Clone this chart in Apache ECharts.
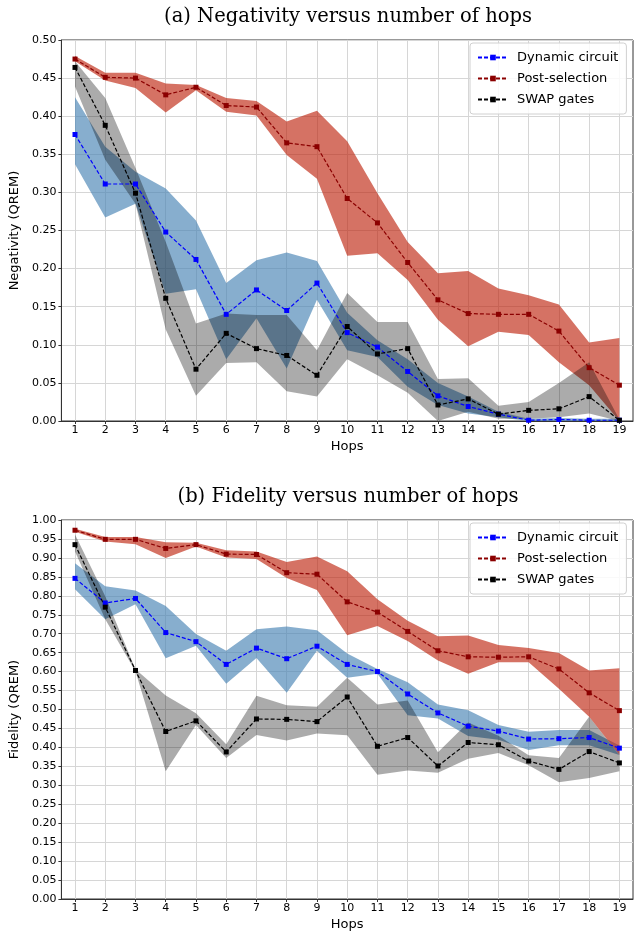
<!DOCTYPE html>
<html>
<head>
<meta charset="utf-8">
<script src="https://cdn.jsdelivr.net/npm/echarts@6/dist/echarts.min.js"></script>
<style>html,body{margin:0;padding:0;background:#fff}#c{width:636px;height:932px}</style>
</head>
<body>
<div id="c"></div>
<script>
const hops = [1,2,3,4,5,6,7,8,9,10,11,12,13,14,15,16,17,18,19];
const seriesNames = ['Dynamic circuit', 'Post-selection', 'SWAP gates'];
const titleA = '(a) Negativity versus number of hops';
const titleB = '(b) Fidelity versus number of hops';

// (a) Negativity
const dynNeg   = [0.376,0.311,0.311,0.248,0.212,0.140,0.172,0.145,0.181,0.116,0.097,0.065,0.033,0.019,0.009,0.001,0.002,0.001,0.001];
const dynNegLo = [0.337,0.267,0.285,0.167,0.173,0.081,0.135,0.069,0.159,0.093,0.084,0.045,0.021,0.010,0.005,0.000,0.000,0.000,0.000];
const dynNegHi = [0.425,0.360,0.327,0.305,0.263,0.181,0.211,0.221,0.210,0.142,0.106,0.081,0.050,0.032,0.012,0.003,0.004,0.003,0.003];

const postNeg   = [0.475,0.451,0.450,0.428,0.438,0.414,0.412,0.365,0.360,0.292,0.260,0.208,0.159,0.141,0.140,0.140,0.118,0.070,0.047];
const postNegLo = [0.472,0.447,0.437,0.405,0.434,0.406,0.401,0.349,0.318,0.217,0.220,0.185,0.133,0.098,0.117,0.113,0.077,0.047,0.000];
const postNegHi = [0.479,0.457,0.457,0.443,0.441,0.424,0.420,0.393,0.407,0.367,0.299,0.235,0.194,0.197,0.174,0.165,0.153,0.103,0.109];

const swapNeg   = [0.464,0.388,0.299,0.161,0.068,0.115,0.095,0.086,0.060,0.124,0.088,0.095,0.021,0.029,0.009,0.014,0.016,0.032,0.001];
const swapNegLo = [0.439,0.343,0.285,0.120,0.033,0.076,0.077,0.039,0.032,0.081,0.060,0.037,0.000,0.012,0.003,0.003,0.005,0.010,0.000];
const swapNegHi = [0.472,0.424,0.332,0.235,0.128,0.141,0.139,0.139,0.093,0.168,0.130,0.130,0.055,0.056,0.020,0.025,0.050,0.077,0.002];

// (b) Fidelity
const dynFid   = [0.846,0.781,0.793,0.703,0.679,0.619,0.662,0.634,0.667,0.619,0.600,0.541,0.491,0.456,0.443,0.422,0.423,0.426,0.398];
const dynFidLo = [0.817,0.738,0.778,0.635,0.668,0.568,0.636,0.544,0.655,0.584,0.594,0.485,0.476,0.430,0.420,0.393,0.406,0.406,0.380];
const dynFidHi = [0.886,0.825,0.814,0.773,0.699,0.655,0.712,0.719,0.709,0.648,0.607,0.572,0.513,0.498,0.459,0.441,0.446,0.446,0.405];

const postFid   = [0.973,0.949,0.949,0.925,0.935,0.910,0.909,0.861,0.857,0.784,0.757,0.706,0.655,0.639,0.638,0.639,0.607,0.544,0.497];
const postFidLo = [0.969,0.943,0.936,0.900,0.930,0.901,0.897,0.847,0.815,0.696,0.720,0.681,0.629,0.594,0.625,0.625,0.555,0.481,0.380];
const postFidHi = [0.977,0.955,0.955,0.941,0.940,0.920,0.917,0.889,0.904,0.865,0.791,0.734,0.693,0.695,0.670,0.662,0.649,0.603,0.609];

const swapFid   = [0.935,0.770,0.603,0.442,0.470,0.388,0.475,0.474,0.468,0.533,0.403,0.426,0.351,0.413,0.407,0.364,0.342,0.389,0.359];
const swapFidLo = [0.917,0.738,0.600,0.337,0.459,0.372,0.433,0.418,0.437,0.432,0.328,0.339,0.333,0.370,0.385,0.353,0.308,0.319,0.337];
const swapFidHi = [0.962,0.799,0.606,0.537,0.490,0.408,0.536,0.511,0.507,0.584,0.513,0.524,0.387,0.466,0.431,0.379,0.372,0.481,0.379];

const lineColors = ['#0000ff', '#8b0000', '#000000'];
const fillColors = ['rgba(70,130,180,0.65)', 'rgba(189,35,12,0.64)', 'rgba(0,0,0,0.33)'];

function band(name, lo, hi, idx, colorIdx) {
  const data = hops.map((h, i) => [h, lo[i], hi[i]]);
  return {
    type: 'custom', name: name + ' band', xAxisIndex: idx, yAxisIndex: idx, z: 1 + colorIdx,
    silent: true, data: data, encode: {x: 0, y: [1, 2]},
    renderItem: function (params, api) {
      if (params.dataIndex !== 0) return null;
      const top = [], bot = [];
      for (let i = 0; i < data.length; i++) {
        top.push(api.coord([data[i][0], data[i][2]]));
        bot.unshift(api.coord([data[i][0], data[i][1]]));
      }
      return {type: 'polygon', shape: {points: top.concat(bot)}, style: {fill: fillColors[colorIdx]}};
    }
  };
}
function line(name, vals, idx, colorIdx) {
  return {
    type: 'line', name: name, xAxisIndex: idx, yAxisIndex: idx, z: 10,
    data: hops.map((h, i) => [h, vals[i]]),
    symbol: 'rect', symbolSize: 5, showSymbol: true,
    lineStyle: {color: lineColors[colorIdx], width: 1.2, type: [4, 2]},
    itemStyle: {color: lineColors[colorIdx]},
    emphasis: {disabled: true}
  };
}

const gridLine = {show: true, lineStyle: {color: '#d6d6d6', width: 1}};
function xAx(idx) {
  return {
    type: 'value', gridIndex: idx, min: 0.55, max: 19.45,
    name: 'Hops', nameLocation: 'middle', nameGap: 19,
    nameTextStyle: {fontFamily: 'DejaVu Sans', fontSize: 13, color: '#000'},
    axisLine: {show: true, lineStyle: {color: '#333', width: 1}},
    axisTick: {show: true, length: 3, customValues: hops, lineStyle: {color: '#333'}},
    axisLabel: {customValues: hops, fontFamily: 'DejaVu Sans', fontSize: 11, color: '#000', margin: 4},
    splitLine: gridLine
  };
}
function yAx(idx, max, name) {
  return {
    type: 'value', gridIndex: idx, min: 0, max: max, interval: 0.05,
    name: name, nameLocation: 'middle', nameGap: 35,
    nameTextStyle: {fontFamily: 'DejaVu Sans', fontSize: 13, color: '#000'},
    axisLine: {show: true, lineStyle: {color: '#333', width: 1}},
    axisTick: {show: true, length: 3, lineStyle: {color: '#333'}},
    axisLabel: {fontFamily: 'DejaVu Sans', fontSize: 11, color: '#000', margin: 5,
      formatter: v => v.toFixed(2)},
    splitLine: gridLine
  };
}
function legend(top) {
  return {
    left: 470, top: top, orient: 'vertical', data: seriesNames,
    backgroundColor: 'rgba(255,255,255,0.85)', borderColor: '#d0d0d0', borderWidth: 1, borderRadius: 3,
    padding: [7, 8, 7, 7], itemGap: 6, itemWidth: 30, itemHeight: 7,
    textStyle: {fontFamily: 'DejaVu Sans', fontSize: 13, lineHeight: 15, color: '#000', padding: [0, 0, 0, 4]}
  };
}

const option = {
  animation: false,
  backgroundColor: '#fff',
  title: [
    {text: titleA, left: 343, top: 2, textAlign: 'center',
     textStyle: {fontFamily: 'DejaVu Serif', fontWeight: 'normal', fontSize: 19.5, color: '#000'}},
    {text: titleB, left: 343, top: 482, textAlign: 'center',
     textStyle: {fontFamily: 'DejaVu Serif', fontWeight: 'normal', fontSize: 19.5, color: '#000'}}
  ],
  legend: [legend(43), legend(523)],
  grid: [
    {left: 57, right: 3, top: 40, height: 381, show: true, borderColor: '#333', borderWidth: 1, backgroundColor: 'transparent'},
    {left: 57, right: 3, top: 520, height: 382, show: true, borderColor: '#333', borderWidth: 1, backgroundColor: 'transparent'}
  ],
  xAxis: [xAx(0), xAx(1)],
  yAxis: [yAx(0, 0.5, 'Negativity (QREM)'), yAx(1, 1.0, 'Fidelity (QREM)')],
  series: [
    line(seriesNames[0], dynNeg, 0, 0),
    line(seriesNames[1], postNeg, 0, 1),
    line(seriesNames[2], swapNeg, 0, 2),
    line(seriesNames[0], dynFid, 1, 0),
    line(seriesNames[1], postFid, 1, 1),
    line(seriesNames[2], swapFid, 1, 2),
    band(seriesNames[0], dynNegLo, dynNegHi, 0, 0),
    band(seriesNames[1], postNegLo, postNegHi, 0, 1),
    band(seriesNames[2], swapNegLo, swapNegHi, 0, 2),
    band(seriesNames[0], dynFidLo, dynFidHi, 1, 0),
    band(seriesNames[1], postFidLo, postFidHi, 1, 1),
    band(seriesNames[2], swapFidLo, swapFidHi, 1, 2)
  ]
};
const chart = echarts.init(document.getElementById('c'), null, {renderer: 'canvas'});
chart.setOption(option);
</script>
</body>
</html>
